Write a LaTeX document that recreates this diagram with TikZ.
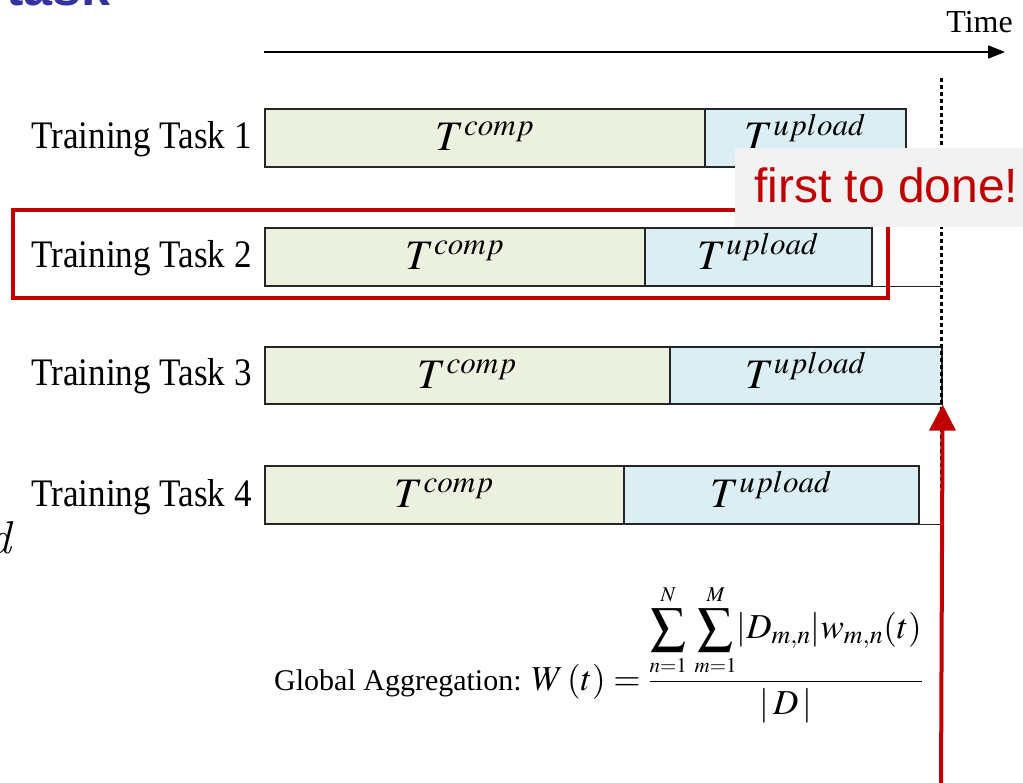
\documentclass[tikz,border=0pt]{standalone}
\usepackage{graphicx}
\usepackage{mathptmx}
\usepackage[no-math]{fontspec}
\setmainfont{Liberation Serif}
\newfontfamily\arialf{Liberation Sans}
\newfontfamily\lmfont{Latin Modern Roman}
\usetikzlibrary{arrows.meta}
\definecolor{boxgreen}{RGB}{235,241,222}
\definecolor{boxblue}{RGB}{218,238,243}
\definecolor{myred}{RGB}{192,0,0}
\definecolor{slideblue}{RGB}{51,51,160}
\definecolor{notegray}{RGB}{242,242,242}
\newcommand\tasklabel[1]{\scalebox{0.9}[1]{\fontsize{39}{40}\selectfont Training Task #1}}
\newcommand\sumlim[1]{\scriptscriptstyle #1}
\begin{document}
\begin{tikzpicture}[x=1pt,y=-1pt,
  bar/.style={draw=black!85, line width=1.6pt, inner sep=0pt, anchor=north west},
  compbar/.style={bar, fill=boxgreen},
  upbar/.style={bar, fill=boxblue},
  tlab/.style={inner sep=0pt, anchor=base, font=\fontsize{42}{44}\selectfont},
  rowlab/.style={inner sep=0pt, anchor=base east},
  extline/.style={draw=black!85, line width=1.2pt},
]
\useasboundingbox (0,0) rectangle (1023,783);
\clip (0,0) rectangle (1023,783);
\fill[white] (0,0) rectangle (1023,783);

% cut-off slide remnants
\node[anchor=base west, inner sep=0pt, text=slideblue, font=\arialf\bfseries\fontsize{52}{54}\selectfont] (head) at (6,6) {task};
\node[anchor=base west, inner sep=0pt, font=\lmfont\itshape\fontsize{46}{48}\selectfont] (dd) at (-12,553) {d};

% time axis
\coordinate (tstart) at (264,52);
\coordinate (tend) at (1005,52);
\draw[line width=2pt, -{Triangle[width=13pt,length=17pt]}] (tstart) -- (tend);
\node[anchor=base east, inner sep=0pt, font=\fontsize{32}{34}\selectfont] (time) at (1013,33) {Time};

% bars
\node[compbar, minimum width=440pt, minimum height=58pt] (c1) at (264,108) {};
\node[upbar, minimum width=201pt, minimum height=58pt] (u1) at (704,108) {};
\node[compbar, minimum width=380pt, minimum height=58pt] (c2) at (264,227) {};
\node[upbar, minimum width=227pt, minimum height=58pt] (u2) at (644,227) {};
\node[compbar, minimum width=405pt, minimum height=57pt] (c3) at (264,346) {};
\node[upbar, minimum width=272pt, minimum height=57pt] (u3) at (669,346) {};
\node[compbar, minimum width=359pt, minimum height=58pt] (c4) at (264,465) {};
\node[upbar, minimum width=295pt, minimum height=58pt] (u4) at (623,465) {};

\foreach \i in {1,2,3,4}{
  \node[tlab] (tc\i) at ([yshift=-13pt]c\i.center) {$T^{comp}$};
  \node[tlab] (tu\i) at ([yshift=-13pt]u\i.center) {$T^{upload}$};
}

% row labels
\node[rowlab] (r1) at (252,149) {\tasklabel{1}};
\node[rowlab] (r2) at (252,268) {\tasklabel{2}};
\node[rowlab] (r3) at (252,386) {\tasklabel{3}};
\node[rowlab] (r4) at (252,506) {\tasklabel{4}};

% deadline line
\coordinate (dtop) at (941,78);
\coordinate (dbot) at (941,523);
\draw[extline] (u1.south east) -- (u1.south east -| dtop);
\draw[extline] (u2.south east) -- (u2.south east -| dtop);
\draw[extline] (u4.south east) -- (u4.south east -| dtop);
\draw[black, line width=3pt, dash pattern=on 4pt off 3pt] (dtop) -- (dbot);

% highlight of task 2
\draw[myred, line width=4pt] (13,210) rectangle (888,298);

% note
\node[fill=notegray, anchor=north west, minimum width=288pt, minimum height=79pt, inner sep=0pt] (note) at (735,148) {};
\node[anchor=base west, inner sep=0pt, text=myred, font=\arialf\fontsize{48}{50}\selectfont] (notetext) at (754,203) {first to done!};

% red arrow
\coordinate (rbot) at (941,790);
\draw[myred, line width=4pt, -{Triangle[width=26pt,length=26pt]}] (rbot) -- (u3.south east);

% formula
\node[anchor=base west, inner sep=0pt, font=\fontsize{30}{36}\selectfont] (agg) at (274,690)
  {Global Aggregation: {\fontsize{35}{40}\selectfont$\displaystyle W\,(t)\;{=}\;\frac{\displaystyle\sum_{\sumlim{n=1}}^{\sumlim{N}}\,\sum_{\sumlim{m=1}}^{\sumlim{M}}\!\left|D_{m,n}\right|\!w_{m,n}(t)}{|\,D\,|}$}};
\end{tikzpicture}
\end{document}
